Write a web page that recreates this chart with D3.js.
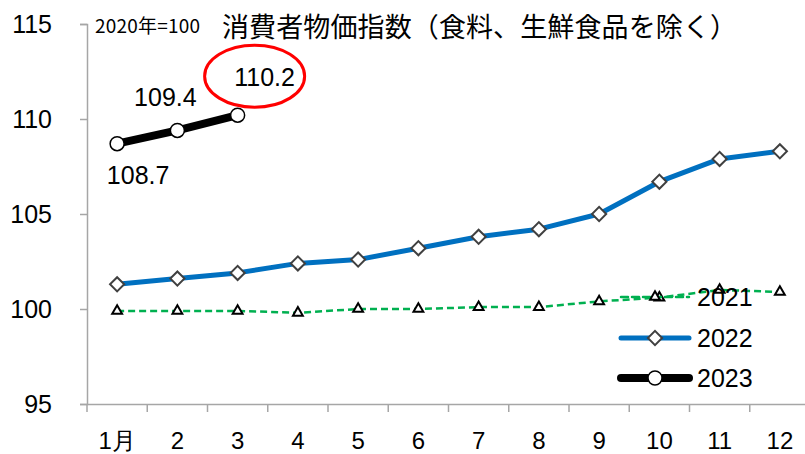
<!DOCTYPE html>
<html>
<head>
<meta charset="utf-8">
<script src="https://cdn.jsdelivr.net/npm/d3@7"></script>
<style>
  body { margin: 0; background: #fff; }
  text { font-family: "Liberation Sans", Arial, sans-serif; fill: #000; }
  .jp { font-family: "Noto Sans CJK JP", sans-serif; }
</style>
</head>
<body>
<div id="chart"></div>
<script>
// data (2020 = 100)
var months = ['1月', '2', '3', '4', '5', '6', '7', '8', '9', '10', '11', '12'];
var v2021 = [99.9, 99.9, 99.9, 99.8, 100.0, 100.0, 100.1, 100.1, 100.4, 100.6, 101.0, 100.9];
var v2022 = [101.3, 101.6, 101.9, 102.4, 102.6, 103.2, 103.8, 104.2, 105.0, 106.7, 107.9, 108.3];
var v2023 = [108.7, 109.4, 110.2];
var yTicks = [95, 100, 105, 110, 115];

var W = 805, H = 454;
var svg = d3.select('#chart').append('svg').attr('width', W).attr('height', H);

var x = d3.scaleBand().domain(months).range([87, 810]);
var y = d3.scaleLinear().domain([95, 115]).range([404, 24]);
var cx = function(i) { return x(months[i]) + x.bandwidth() / 2; };

// axes
var axisY = d3.axisLeft(y).tickValues(yTicks).tickSize(7).tickPadding(28);
var gy = svg.append('g').attr('transform', 'translate(87,0)').call(axisY);
gy.select('.domain').attr('stroke', '#a6a6a6').attr('stroke-width', 1.5);
gy.selectAll('.tick line').attr('stroke', '#a6a6a6').attr('stroke-width', 1.5);
gy.selectAll('.tick text').attr('font-size', 25).attr('font-family', '"Liberation Sans", Arial, sans-serif');

var axisX = d3.axisBottom(x).tickSize(0).tickPadding(28);
var gx = svg.append('g').attr('transform', 'translate(0,404)').call(axisX);
gx.select('.domain').attr('stroke', '#a6a6a6').attr('stroke-width', 1.5);
gx.selectAll('.tick text').attr('font-size', 24).attr('font-family', '"Liberation Sans", "Noto Sans CJK JP", sans-serif');
// tick marks between the categories
gx.selectAll('.sep').data(d3.range(months.length + 1)).enter().append('line')
  .attr('x1', function(i) { return 87 + i * x.step(); })
  .attr('x2', function(i) { return 87 + i * x.step(); })
  .attr('y1', 0).attr('y2', 8)
  .attr('stroke', '#a6a6a6').attr('stroke-width', 1.5);

// titles
svg.append('text').attr('x', 95).attr('y', 33).attr('font-size', 19).attr('class', 'jp')
  .attr('textLength', 105).text('2020年=100');
svg.append('text').attr('x', 222).attr('y', 37).attr('font-size', 27).attr('class', 'jp')
  .attr('textLength', 515).text('消費者物価指数（食料、生鮮食品を除く）');

var line = d3.line().x(function(d, i) { return cx(i); }).y(function(d) { return y(d); });

function triangle(g, px, py) {
  g.append('path').attr('d', d3.symbol().type(d3.symbolTriangle).size(42)())
    .attr('transform', 'translate(' + px + ',' + py + ')')
    .attr('fill', '#fff').attr('stroke', '#000').attr('stroke-width', 2);
}
function diamond(g, px, py) {
  g.append('rect').attr('x', -5).attr('y', -5).attr('width', 10).attr('height', 10)
    .attr('transform', 'translate(' + px + ',' + py + ') rotate(45)')
    .attr('fill', '#fff').attr('stroke', '#404040').attr('stroke-width', 2);
}
function circle(g, px, py) {
  g.append('circle').attr('cx', px).attr('cy', py).attr('r', 7)
    .attr('fill', '#fff').attr('stroke', '#000').attr('stroke-width', 1.5);
}

// 2021
var g21 = svg.append('g');
g21.append('path').datum(v2021).attr('d', line).attr('fill', 'none')
  .attr('stroke', '#00b050').attr('stroke-width', 2.5).attr('stroke-dasharray', '7,4');
v2021.forEach(function(d, i) { triangle(g21, cx(i), y(d)); });

// 2022
var g22 = svg.append('g');
g22.append('path').datum(v2022).attr('d', line).attr('fill', 'none')
  .attr('stroke', '#0070c0').attr('stroke-width', 5).attr('stroke-linejoin', 'round');
v2022.forEach(function(d, i) { diamond(g22, cx(i), y(d)); });

// 2023
var g23 = svg.append('g');
g23.append('path').datum(v2023).attr('d', line).attr('fill', 'none')
  .attr('stroke', '#000').attr('stroke-width', 8).attr('stroke-linejoin', 'round');
v2023.forEach(function(d, i) { circle(g23, cx(i), y(d)); });

// data labels for 2023
var labelOff = [[21, 40], [-12, -24], [27, -29]];
v2023.forEach(function(d, i) {
  svg.append('text').attr('x', cx(i) + labelOff[i][0]).attr('y', y(d) + labelOff[i][1])
    .attr('text-anchor', 'middle').attr('font-size', 25).text(d.toFixed(1));
});
svg.append('ellipse').attr('cx', cx(2) + 17).attr('cy', y(v2023[2]) - 39)
  .attr('rx', 50).attr('ry', 31).attr('fill', 'none').attr('stroke', '#ff0000').attr('stroke-width', 3);

// legend
var legend = [
  {name: '2021', y: 297, color: '#00b050', w: 2.5, dash: '7,4', mark: triangle},
  {name: '2022', y: 338, color: '#0070c0', w: 5, dash: null, mark: diamond},
  {name: '2023', y: 378, color: '#000', w: 8, dash: null, mark: circle}
];
legend.forEach(function(l) {
  var g = svg.append('g');
  g.append('line').attr('x1', 621).attr('x2', 689).attr('y1', l.y).attr('y2', l.y)
    .attr('stroke', l.color).attr('stroke-width', l.w).attr('stroke-linecap', 'round')
    .attr('stroke-dasharray', l.dash);
  l.mark(g, 655, l.y);
  g.append('text').attr('x', 697).attr('y', l.y + 9).attr('font-size', 25).text(l.name);
});
</script>
</body>
</html>
